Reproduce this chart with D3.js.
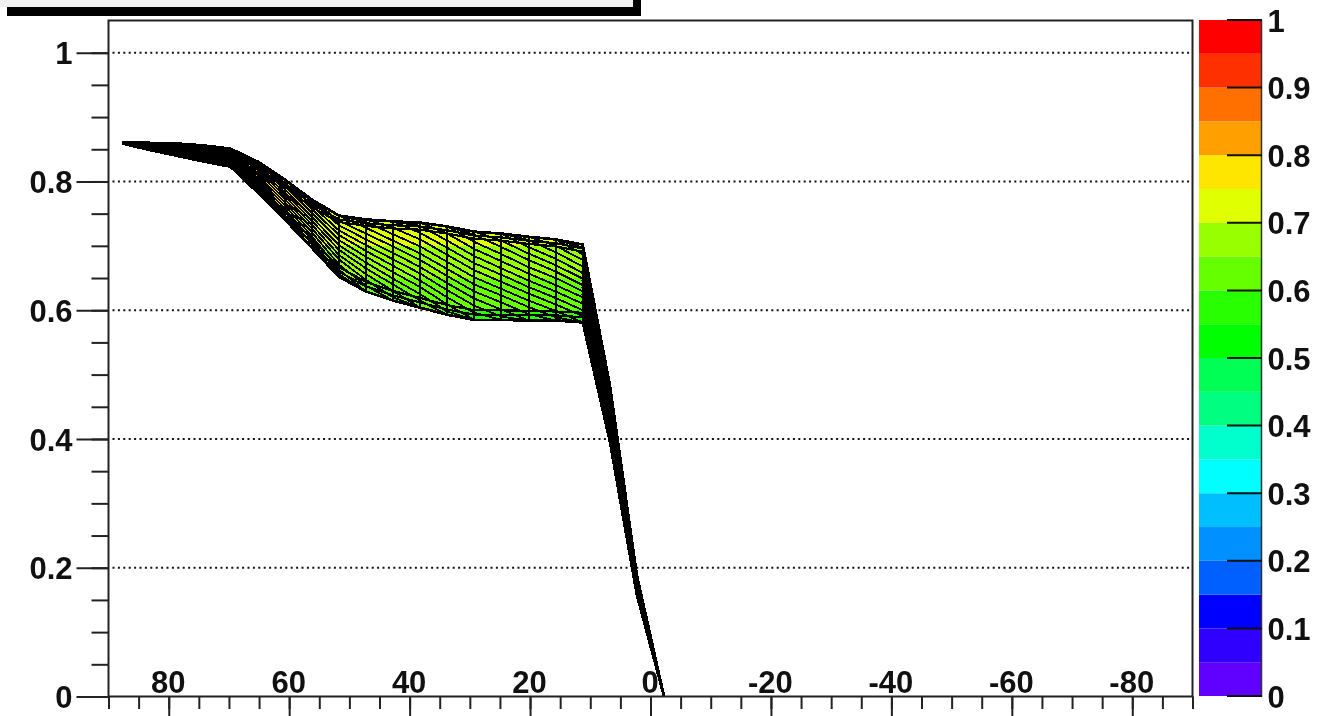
<!DOCTYPE html>
<html>
<head>
<meta charset="utf-8">
<script src="https://cdn.jsdelivr.net/npm/d3@7"></script>
<style>
html, body { margin: 0; padding: 0; background: #fff; overflow: hidden; }
svg { filter: blur(0.5px); }
text { font-family: "Liberation Sans", Arial, sans-serif; font-weight: bold; font-size: 31px; fill: #111; }
</style>
</head>
<body>
<svg id="chart" width="1336" height="716"></svg>
<script>
// bin centres along the horizontal axis
const knots = [87.75, 83.25, 78.75, 74.25, 69.75, 65.25, 60.75, 56.25, 51.75, 47.25, 42.75,
	38.25, 33.75, 29.25, 24.75, 20.25, 15.75, 11.25, 6.75, 2.25, -2.25];

const topEdge = [.860, .860, .859, .856, .851, .831, .803, .772, .747, .741, .738,
	.736, .730, .722, .719, .714, .710, .702, .484, .188, 0];
const bottomEdge = [.859, .849, .840, .831, .823, .783, .741, .697, .652, .629, .615,
	.604, .593, .585, .585, .584, .584, .581, .396, .157, 0];

// thin left part of the sheet, knots 0..4
const leftWires = [
	[.860, .860, .859, .856, .851],
	[.860, .859, .857, .853, .848],
	[.860, .858, .854, .850, .844],
	[.860, .857, .852, .847, .841],
	[.860, .855, .850, .844, .837],
	[.859, .854, .847, .841, .834],
	[.859, .852, .845, .837, .830],
	[.859, .851, .842, .834, .827],
	[.859, .849, .840, .831, .823]
];

// lines hugging the two edges: thick black rims of the sheet, from knot 4
const rimWires = [
	[.849, .826, .797, .765, .741, .735, .732, .730, .724, .716, .713, .708, .704, .696],
	[.847, .821, .792, .760, .737, .731, .727, .725, .719, .711, .708, .703, .699, .691],
	[.825, .788, .747, .704, .660, .637, .623, .612, .601, .593, .593, .592, .592, .589],
	[.827, .793, .753, .711, .667, .644, .630, .619, .608, .600, .600, .599, .598, .596]
];

// wires over the wide part: [first knot index, values...]
const midWires = [
	[4, .824, .783],
	[4, .826, .783],
	[4, .829, .787, .741],
	[4, .831, .791, .743, .697],
	[4, .833, .795, .748, .697],
	[4, .835, .798, .753, .703, .652],
	[4, .838, .802, .758, .709, .656, .629],
	[4, .840, .806, .763, .715, .663, .629],
	[4, .842, .810, .768, .721, .671, .638, .615],
	[4, .844, .814, .773, .727, .679, .647, .620, .604],
	[4, .847, .818, .778, .733, .686, .656, .630, .604],
	[4, .849, .821, .783, .739, .694, .665, .640, .615, .593],
	[4, .851, .825, .788, .745, .701, .674, .649, .625, .598, .585],
	[4, .851, .829, .793, .751, .709, .683, .659, .636, .609, .585],
	[5, .831, .798, .757, .717, .692, .669, .646, .620, .596, .585],
	[6, .803, .763, .724, .701, .679, .657, .631, .607, .590, .584],
	[6, .803, .769, .732, .710, .689, .667, .642, .618, .601, .584],
	[7, .772, .739, .719, .699, .678, .653, .629, .612, .594, .584],
	[8, .747, .728, .708, .688, .664, .640, .623, .605, .589, .581],
	[8, .747, .737, .718, .699, .675, .651, .633, .615, .599, .581],
	[9, .741, .728, .710, .686, .662, .644, .626, .609, .591],
	[10, .738, .720, .697, .673, .655, .636, .619, .600],
	[10, .738, .731, .708, .684, .665, .646, .629, .610],
	[11, .736, .719, .695, .676, .657, .639, .620],
	[12, .730, .706, .687, .667, .650, .629],
	[12, .730, .717, .698, .678, .660, .639],
	[13, .722, .708, .688, .670, .649],
	[14, .719, .698, .680, .658],
	[14, .719, .709, .690, .668],
	[15, .714, .700, .678],
	[16, .710, .687],
	[16, .710, .697]
];

// steep fall to zero, knots 17..20
const rightWires = [
	[.702, .484, .188, 0],
	[.691, .476, .185, 0],
	[.680, .468, .182, 0],
	[.669, .460, .180, 0],
	[.658, .452, .177, 0],
	[.647, .444, .174, 0],
	[.636, .436, .171, 0],
	[.625, .428, .168, 0],
	[.614, .420, .166, 0],
	[.603, .412, .163, 0],
	[.592, .404, .160, 0],
	[.581, .396, .157, 0]
];

// 20 bands of the colour bar, from 0 up to 1
const paletteColors = ["#6000ff", "#3000ff", "#0000ff", "#0060ff", "#0090ff", "#00bfff", "#00ffff",
	"#00ffcc", "#00ff80", "#00ff55", "#00ff00", "#28ff00", "#66ff00", "#98ff00", "#e0ff00", "#ffe600",
	"#ffa000", "#ff7000", "#ff3000", "#ff0000"];
const bandStep = 0.05;

const xMajor = [80, 60, 40, 20, 0, -20, -40, -60, -80];
const xMinor = d3.range(-90, 91, 5);
const yMajor = [0, .2, .4, .6, .8, 1];
const yMinor = d3.range(0, 1.01, .05);
const gridLevels = [.2, .4, .6, .8, 1];
const paletteTicks = [0, .1, .2, .3, .4, .5, .6, .7, .8, .9, 1];

const frame = {left: 108.5, right: 1192.5, top: 20.5, bottom: 696.5};

const x = d3.scaleLinear().domain([90, -90]).range([frame.left, frame.right]);
const y = d3.scaleLinear().domain([0, 1.05]).range([frame.bottom, frame.top]);
const z = d3.scaleLinear().domain([0, 1]).range([696, 20]);

const svg = d3.select("#chart");

// what is left of the title box, cut by the top of the picture
svg.append("rect").attr("x", 7).attr("y", 0).attr("width", 634).attr("height", 16).attr("fill", "#000");
svg.append("rect").attr("x", 0).attr("y", 0).attr("width", 633).attr("height", 7).attr("fill", "#f0f0f0");

// grid
svg.append("g").selectAll("line").data(gridLevels).join("line")
	.attr("x1", frame.left + 4)
	.attr("x2", frame.right - 2)
	.attr("y1", d => y(d))
	.attr("y2", d => y(d))
	.attr("stroke", "#111")
	.attr("stroke-width", 2)
	.attr("stroke-dasharray", "2 3.4");

// sheet outline used as clip for the colour bands
const outline = knots.map((k, i) => [x(k), y(topEdge[i])])
	.concat(knots.map((k, i) => [x(k), y(bottomEdge[i])]).reverse());

svg.append("clipPath").attr("id", "sheet")
	.append("polygon").attr("points", outline.join(" "));
svg.append("clipPath").attr("id", "pad")
	.append("rect")
	.attr("x", frame.left).attr("y", frame.top)
	.attr("width", frame.right - frame.left).attr("height", frame.bottom - frame.top);

svg.append("g").attr("clip-path", "url(#sheet)")
	.selectAll("rect").data(paletteColors).join("rect")
	.attr("x", frame.left)
	.attr("width", frame.right - frame.left)
	.attr("y", (d, i) => y((i + 1) * bandStep))
	.attr("height", (d, i) => y(i * bandStep) - y((i + 1) * bandStep))
	.attr("fill", d => d);

// mesh
const line = d3.line().x(d => x(d[0])).y(d => y(d[1]));

function drawWires(paths, width) {
	svg.append("g").attr("clip-path", "url(#pad)")
		.selectAll("path").data(paths).join("path")
		.attr("d", line)
		.attr("fill", "none")
		.attr("stroke", "#000")
		.attr("stroke-width", width)
		.attr("stroke-linejoin", "round")
		.attr("shape-rendering", "crispEdges");
}

drawWires(midWires.map(w => w.slice(1).map((v, i) => [knots[w[0] + i], v])), 1.9);
drawWires(knots.map((k, i) => [[k, topEdge[i]], [k, bottomEdge[i]]]), 2);
drawWires(rimWires.map(w => w.map((v, i) => [knots[4 + i], v])), 2.2);
drawWires(leftWires.map(w => w.map((v, i) => [knots[i], v])), 2.7);
drawWires(rightWires.map(w => w.map((v, i) => [knots[17 + i], v])), 2.7);
drawWires([topEdge, bottomEdge].map(e => e.map((v, i) => [knots[i], v])), 2.7);

// frame
svg.append("rect")
	.attr("x", frame.left).attr("y", frame.top)
	.attr("width", frame.right - frame.left).attr("height", frame.bottom - frame.top)
	.attr("fill", "none").attr("stroke", "#222").attr("stroke-width", 2);

// axes
function styleAxis(g) {
	g.select(".domain").remove();
	g.selectAll("line").attr("stroke", "#222").attr("stroke-width", 2);
}

svg.append("g").attr("transform", `translate(${frame.left},0)`)
	.call(d3.axisLeft(y).tickValues(yMinor).tickSize(17).tickFormat(""))
	.call(styleAxis);
svg.append("g").attr("transform", `translate(${frame.left},0)`)
	.call(d3.axisLeft(y).tickValues(yMajor).tickSize(32).tickPadding(4).tickFormat(d => d3.format("~g")(d)))
	.call(styleAxis)
	.call(g => g.selectAll("text").attr("font-size", null).attr("font-family", null).attr("fill", null)
		.attr("dy", "0.36em"));

svg.append("g").attr("transform", `translate(0,${frame.bottom})`)
	.call(d3.axisBottom(x).tickValues(xMinor).tickSize(12.5).tickFormat(""))
	.call(styleAxis);
svg.append("g").attr("transform", `translate(0,${frame.bottom})`)
	.call(d3.axisBottom(x).tickValues(xMajor).tickSize(24).tickFormat(d => d))
	.call(styleAxis)
	.call(g => g.selectAll("text").attr("font-size", null).attr("font-family", null).attr("fill", null)
		.attr("y", -4).attr("dy", 0).attr("dx", -1));

// colour bar
svg.append("g").selectAll("rect").data(paletteColors).join("rect")
	.attr("x", 1199)
	.attr("width", 62)
	.attr("y", (d, i) => z((i + 1) * bandStep))
	.attr("height", (d, i) => z(i * bandStep) - z((i + 1) * bandStep))
	.attr("fill", d => d);

svg.append("line").attr("x1", 1261.5).attr("x2", 1261.5).attr("y1", 20).attr("y2", 697)
	.attr("stroke", "#333").attr("stroke-width", 1.5);

svg.append("g").attr("transform", "translate(1261.5,0)")
	.call(d3.axisRight(z).tickValues(paletteTicks).tickSize(0).tickPadding(6).tickFormat(d => d3.format("~g")(d)))
	.call(g => g.select(".domain").remove())
	.call(g => g.selectAll("text").attr("font-size", null).attr("font-family", null).attr("fill", null)
		.attr("dy", "0.36em"));

svg.append("g").selectAll("line").data(paletteTicks).join("line")
	.attr("x1", 1227).attr("x2", 1262)
	.attr("y1", d => z(d)).attr("y2", d => z(d))
	.attr("stroke", "#111").attr("stroke-width", 2);
</script>
</body>
</html>
